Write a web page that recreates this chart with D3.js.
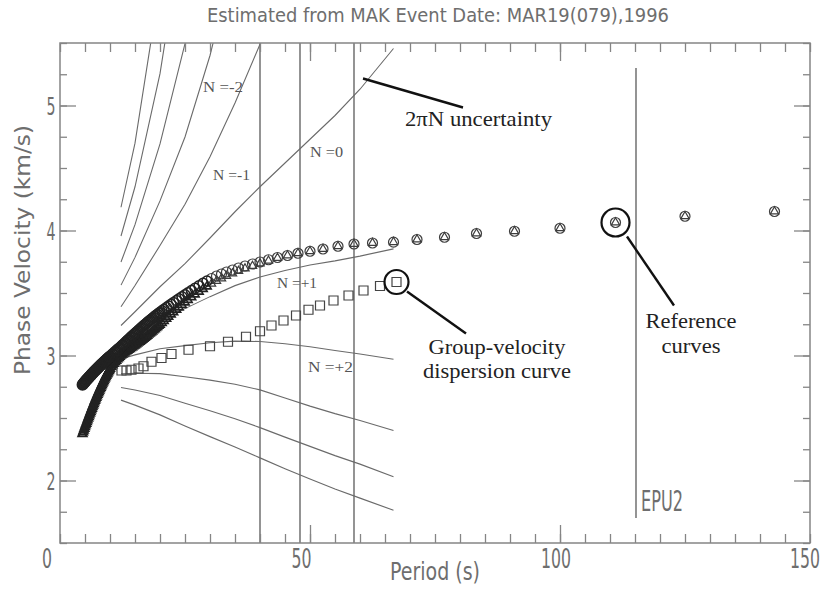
<!DOCTYPE html>
<html><head><meta charset="utf-8">
<script src="https://cdn.jsdelivr.net/npm/d3@7"></script>
<style>body{margin:0;background:#fff}svg{display:block}</style>
</head><body>
<svg id="c" width="829" height="590"></svg>
<script>
// ---------------- data ----------------
const titleText = "Estimated from MAK Event Date: MAR19(079),1996";
const xTickLabels = [0, 50, 100, 150];
const yTickLabels = [2, 3, 4, 5];
const xLabel = "Period  (s)";
const yLabel = "Phase Velocity (km/s)";

// reference curves (phase velocity), circles (A) and triangles (B)
const refPeriods = [142.9,125,111.1,100,90.9,83.3,76.9,71.4,66.7,62.5,58.8,55.6,52.6,50,47.6,45.5,43.5,41.7,40,38.5,37,35.7,34.5,33.3,32.3,31.3,30.3,29.4,28.6,27.8,27,26.3,25.6,25,24.4,23.8,23.3,22.7,22.2,21.7,21.3,20.8,20.4,20,19.5,19,18.5,18,17.5,17,16.5,16,15.5,15,14.5,14,13.5,13,12.5,12,11.5,11,10.5,10,9.75,9.5,9.25,9,8.75,8.5,8.25,8,7.75,7.5,7.25,7,6.75,6.5,6.25,6,5.75,5.5,5.25,5,4.75,4.5];
const refVelA = [4.152,4.114,4.064,4.018,3.994,3.976,3.946,3.928,3.907,3.900,3.892,3.874,3.852,3.834,3.818,3.800,3.784,3.766,3.748,3.732,3.716,3.700,3.684,3.668,3.652,3.636,3.616,3.596,3.578,3.558,3.538,3.520,3.502,3.486,3.470,3.454,3.440,3.424,3.410,3.396,3.384,3.370,3.358,3.345,3.330,3.315,3.298,3.282,3.265,3.248,3.230,3.212,3.194,3.176,3.158,3.140,3.121,3.102,3.083,3.064,3.046,3.028,3.010,2.992,2.983,2.974,2.965,2.956,2.946,2.937,2.928,2.918,2.908,2.898,2.888,2.878,2.868,2.857,2.846,2.835,2.824,2.813,2.802,2.790,2.778,2.766];
const refVelB = [4.152,4.114,4.064,4.018,3.994,3.976,3.946,3.928,3.907,3.900,3.892,3.874,3.852,3.834,3.818,3.800,3.780,3.758,3.736,3.716,3.696,3.676,3.656,3.636,3.616,3.596,3.574,3.552,3.532,3.510,3.488,3.466,3.444,3.424,3.404,3.384,3.366,3.346,3.328,3.310,3.294,3.276,3.260,3.246,3.228,3.210,3.192,3.175,3.158,3.142,3.126,3.110,3.095,3.080,3.066,3.052,3.038,3.024,3.008,2.990,2.970,2.948,2.922,2.894,2.876,2.857,2.838,2.818,2.797,2.776,2.754,2.732,2.709,2.686,2.662,2.638,2.613,2.588,2.562,2.536,2.509,2.482,2.455,2.428,2.400,2.372];
// the short-period part of the reference curves is sampled very densely
const refPeriodsDense = [19.75,19.25,18.75,18.25,17.75,17.25,16.75,16.25,15.75,15.25,14.75,14.25,13.75,13.25,12.75,12.25,11.75,11.25,10.75,10.25,9.875,9.625,9.375,9.125,8.875,8.625,8.375,8.125,7.875,7.625,7.375,7.125,6.875,6.625,6.375,6.125,5.875,5.625,5.375,5.125,4.875,4.625];
const refVelADense = [3.338,3.322,3.306,3.290,3.274,3.256,3.239,3.221,3.203,3.185,3.167,3.149,3.130,3.112,3.092,3.074,3.055,3.037,3.019,3.001,2.988,2.978,2.970,2.960,2.951,2.942,2.932,2.923,2.913,2.903,2.893,2.883,2.873,2.862,2.852,2.840,2.830,2.818,2.808,2.796,2.784,2.772];
const refVelBDense = [3.237,3.219,3.201,3.184,3.167,3.150,3.134,3.118,3.103,3.088,3.073,3.059,3.045,3.031,3.016,2.999,2.980,2.959,2.935,2.908,2.885,2.867,2.848,2.828,2.808,2.787,2.765,2.743,2.721,2.698,2.674,2.650,2.626,2.601,2.575,2.549,2.523,2.496,2.469,2.442,2.414,2.386];

// measured group-velocity dispersion curve (squares)
const groupPeriods = [12.3,13.3,14.3,15.7,16.7,18.3,20.3,22.3,25.7,30.0,33.6,37.2,40.0,42.3,44.7,47.2,49.7,52.0,54.7,57.7,60.7,64.0,67.3];
const groupVel = [2.880,2.880,2.886,2.896,2.914,2.950,2.980,3.012,3.046,3.074,3.110,3.150,3.194,3.240,3.280,3.320,3.366,3.400,3.440,3.480,3.520,3.556,3.588];

// 2*pi*N phase-velocity curves
const nPeriods = [12.2,15,20,25,30,35,40,45,50,55,60,66.7];
const curveNm5 = [4.186,4.699,5.974,null,null,null,null,null,null,null,null,null];
const curveNm4 = [3.956,4.350,5.255,6.520,null,null,null,null,null,null,null,null];
const curveNm3 = [3.748,4.047,4.693,5.495,6.630,null,null,null,null,null,null,null];
const curveNm2 = [3.563,3.785,4.237,4.748,5.400,6.210,null,null,null,null,null,null];
const curveNm1 = [3.390,3.560,3.880,4.210,4.590,5.020,5.490,5.950,null,null,null,null];
const curveN0  = [3.240,3.350,3.550,3.735,3.940,4.150,4.350,4.540,4.730,4.920,5.130,5.456];
const curveNp1 = [3.101,3.168,3.283,3.375,3.471,3.559,3.628,3.680,3.724,3.757,3.795,3.853];
const curveNp2 = [2.972,3.005,3.054,3.079,3.102,3.115,3.112,3.094,3.070,3.040,3.012,2.970];
const curveNp3 = [2.854,2.858,2.855,2.830,2.803,2.770,2.725,2.660,2.595,2.535,2.480,2.400];
const curveNp4 = [2.744,2.724,2.680,2.618,2.558,2.494,2.423,2.347,2.273,2.199,2.131,2.030];
const curveNp5 = [2.643,2.603,2.525,2.436,2.351,2.268,2.181,2.094,2.012,1.932,1.859,1.762];
const nLabels = ["N =-2","N =-1","N =0","N =+1","N =+2"];

// vertical period markers and station line
const markerPeriods = [40, 48, 58.8];
const stationPeriod = 115.2;
const stationName = "EPU2";

// ---------------- drawing ----------------
const svg = d3.select("#c");
const x = d3.scaleLinear().domain([0,150]).range([60,810]);
const y = d3.scaleLinear().domain([1.5,5.5]).range([543,43]);
const hershey = "'DejaVu Sans','Liberation Sans',sans-serif";
const serif = "'Liberation Serif','Times New Roman',serif";
const gText = "#6e6e6e";
const axisCol = "#858585";

svg.append("rect").attr("width",829).attr("height",590).attr("fill","#fff");
svg.append("defs").append("clipPath").attr("id","plot")
  .append("rect").attr("x",x(0)).attr("y",y(5.5)).attr("width",x(150)-x(0)).attr("height",y(1.5)-y(5.5));
const plot = svg.append("g").attr("clip-path","url(#plot)");

// vertical lines
plot.selectAll("line.vl").data(markerPeriods).join("line").attr("class","vl")
  .attr("x1",d=>x(d)).attr("x2",d=>x(d)).attr("y1",y(5.5)).attr("y2",y(1.5))
  .attr("stroke","#5a5a5a").attr("stroke-width",1.3);
plot.append("line").attr("x1",x(stationPeriod)).attr("x2",x(stationPeriod))
  .attr("y1",y(5.3)).attr("y2",y(1.7)).attr("stroke","#5a5a5a").attr("stroke-width",1.3);

// N curves
const nCurves = [curveNm5,curveNm4,curveNm3,curveNm2,curveNm1,curveN0,curveNp1,curveNp2,curveNp3,curveNp4,curveNp5];
const line = d3.line().defined(d=>d[1]!=null).x(d=>x(d[0])).y(d=>y(d[1]));
plot.selectAll("path.nc").data(nCurves).join("path").attr("class","nc")
  .attr("d",vals=>line(nPeriods.map((p,i)=>[p,vals[i]])))
  .attr("fill","none").attr("stroke","#6a6a6a").attr("stroke-width",1.1);

// group velocity squares
plot.selectAll("path.sq").data(groupPeriods).join("path").attr("class","sq")
  .attr("d",d3.symbol(d3.symbolSquare,81))
  .attr("transform",(d,i)=>`translate(${x(d)},${y(groupVel[i])})`)
  .attr("fill","none").attr("stroke","#444").attr("stroke-width",1.2);

// reference curves
const triPts = refPeriods.map((p,i)=>[p,refVelB[i]]).concat(refPeriodsDense.map((p,i)=>[p,refVelBDense[i]]));
const cirPts = refPeriods.map((p,i)=>[p,refVelA[i]]).concat(refPeriodsDense.map((p,i)=>[p,refVelADense[i]]));
const sw = p => p < 12 ? 1.9 : (p < 30 ? 1.6 : 1.2);
const col = p => p < 30 ? "#222" : "#3d3d3d";
plot.selectAll("path.tri").data(triPts).join("path").attr("class","tri")
  .attr("d",d3.symbol(d3.symbolTriangle,30))
  .attr("transform",d=>`translate(${x(d[0])},${y(d[1])})`)
  .attr("fill","none").attr("stroke",d=>col(d[0])).attr("stroke-width",d=>sw(d[0]));
plot.selectAll("circle.ref").data(cirPts).join("circle").attr("class","ref")
  .attr("cx",d=>x(d[0])).attr("cy",d=>y(d[1])).attr("r",5)
  .attr("fill","none").attr("stroke",d=>col(d[0])).attr("stroke-width",d=>sw(d[0]));

// frame
svg.append("rect").attr("x",x(0)).attr("y",y(5.5)).attr("width",x(150)-x(0)).attr("height",y(1.5)-y(5.5))
  .attr("fill","none").attr("stroke",axisCol).attr("stroke-width",1.5);

// ticks via axes
function tickAxis(axis, transform){
  const g = svg.append("g").attr("transform",transform).call(axis);
  g.select(".domain").remove();
  g.selectAll("line").attr("stroke",axisCol).attr("stroke-width",1.3);
  g.selectAll("text").remove();
}
const xMinor = d3.range(0,151,5), xMajor = [50,100];
const yMinor = d3.range(1.5,5.51,0.25), yMajor = yTickLabels;
tickAxis(d3.axisBottom(x).tickValues(xMinor).tickSize(-9), `translate(0,${y(1.5)})`);
tickAxis(d3.axisBottom(x).tickValues(xMajor).tickSize(-18), `translate(0,${y(1.5)})`);
tickAxis(d3.axisTop(x).tickValues(xMinor).tickSize(-9), `translate(0,${y(5.5)})`);
tickAxis(d3.axisTop(x).tickValues(xMajor).tickSize(-18), `translate(0,${y(5.5)})`);
tickAxis(d3.axisLeft(y).tickValues(yMinor).tickSize(-7), `translate(${x(0)},0)`);
tickAxis(d3.axisLeft(y).tickValues(yMajor).tickSize(-16), `translate(${x(0)},0)`);
tickAxis(d3.axisRight(y).tickValues(yMinor).tickSize(-7), `translate(${x(150)},0)`);
tickAxis(d3.axisRight(y).tickValues(yMajor).tickSize(-16), `translate(${x(150)},0)`);

// hershey-like texts
function hText(str, px, py, w, size, anchor){
  return svg.append("text").text(str).attr("x",px).attr("y",py)
    .attr("font-family",hershey).attr("font-size",size).attr("fill",gText)
    .attr("text-anchor",anchor||"middle")
    .attr("textLength",w).attr("lengthAdjust","spacingAndGlyphs");
}
hText(titleText, 438, 22, 462, 19);
xTickLabels.forEach(v=>{
  const s = String(v);
  hText(s, Math.min(x(v) - 13 + v*0.09, 805), 568, s.length*10, 26);
});
yTickLabels.forEach(v=>{
  hText(String(v), 51, y(v)+9, 9, 25);
});
hText(xLabel, 435, 580, 90, 24);
hText(yLabel, 0, 0, 250, 22).attr("transform",`translate(30,250) rotate(-90)`);
hText(stationName, x(stationPeriod)+5, y(1.76), 42, 28, "start");

// N labels
const nLabelPos = [[28.6,5.112,40],[30.6,4.408,37],[50,4.592,33],[43.4,3.544,40],[49.6,2.872,45]];
nLabels.forEach((t,i)=>{
  const p = nLabelPos[i];
  svg.append("text").text(t).attr("x",x(p[0])).attr("y",y(p[1]))
    .attr("font-family",serif).attr("font-size",14).attr("fill","#555")
    .attr("textLength",p[2]).attr("lengthAdjust","spacingAndGlyphs");
});

// annotations
const ann = svg.append("g");
function seg(p1,v1,p2,v2){
  ann.append("line").attr("x1",x(p1)).attr("y1",y(v1)).attr("x2",x(p2)).attr("y2",y(v2))
    .attr("stroke","#111").attr("stroke-width",2.4);
}
function sText(str, p, v, w, anchor){
  ann.append("text").text(str).attr("x",x(p)).attr("y",y(v))
    .attr("font-family",serif).attr("font-size",21).attr("fill","#222")
    .attr("text-anchor",anchor||"middle")
    .attr("textLength",w).attr("lengthAdjust","spacingAndGlyphs");
}
seg(60.6,5.216,80.6,4.984);
sText("2\u03C0N uncertainty", 69, 4.84, 147, "start");

const gi = groupPeriods.length-1;
ann.append("circle").attr("cx",x(groupPeriods[gi])).attr("cy",y(groupVel[gi])).attr("r",12)
  .attr("fill","none").attr("stroke","#111").attr("stroke-width",2.2);
seg(69.4,3.512,81.2,3.176);
sText("Group-velocity", 87.4, 3.016, 137);
sText("dispersion curve", 87.4, 2.824, 148);

ann.append("circle").attr("cx",x(refPeriods[2])).attr("cy",y(refVelA[2])).attr("r",14)
  .attr("fill","none").attr("stroke","#111").attr("stroke-width",2.2);
seg(113.4,3.952,122.8,3.40);
sText("Reference", 126.2, 3.224, 91);
sText("curves", 126.2, 3.024, 59);
</script>
</body></html>
